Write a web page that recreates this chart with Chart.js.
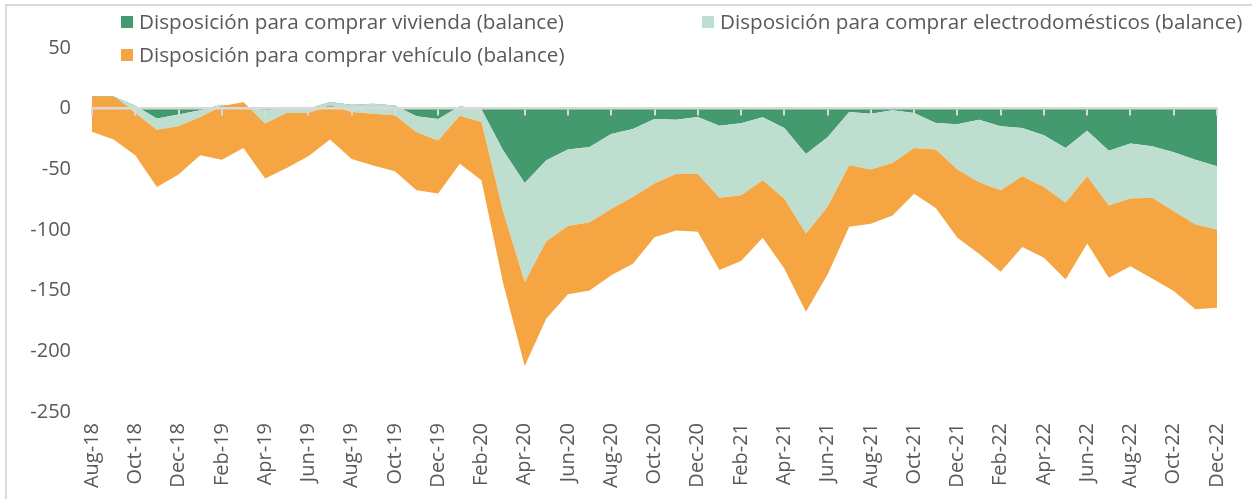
<!DOCTYPE html>
<html>
<head>
<meta charset="utf-8">
<script src="https://cdn.jsdelivr.net/npm/chart.js@4.4.1/dist/chart.umd.min.js"></script>
<style>
html,body{margin:0;padding:0;background:#fff;overflow:hidden;width:1252px;height:499px;}
#frame{position:absolute;left:5px;top:4px;width:1400px;height:700px;border:2px solid #d9d9d9;box-sizing:border-box;}
#wrap{position:absolute;left:0;top:0;width:1252px;height:499px;}
</style>
</head>
<body>
<div id="frame"></div>
<div id="wrap"><canvas id="c" width="1252" height="499"></canvas></div>
<script>
const months = ['Aug-18','Sep-18','Oct-18','Nov-18','Dec-18','Jan-19','Feb-19','Mar-19','Apr-19','May-19','Jun-19','Jul-19',
  'Aug-19','Sep-19','Oct-19','Nov-19','Dec-19','Jan-20','Feb-20','Mar-20','Apr-20','May-20','Jun-20','Jul-20',
  'Aug-20','Sep-20','Oct-20','Nov-20','Dec-20','Jan-21','Feb-21','Mar-21','Apr-21','May-21','Jun-21','Jul-21',
  'Aug-21','Sep-21','Oct-21','Nov-21','Dec-21','Jan-22','Feb-22','Mar-22','Apr-22','May-22','Jun-22','Jul-22',
  'Aug-22','Sep-22','Oct-22','Nov-22','Dec-22'];

const vivienda = [10, 10, 2.5, -8.2, -4.9, -1.4, 3.3, 1, -1, 0, 0, 5.5, 3.3, 4.1, 2.7, -6.3, -8.5, 1.9, -0.5,
  -34.3, -61.2, -42.5, -33.7, -31.5, -20.9, -16.7, -8.5, -9.1, -6.9, -14, -12.1, -7.1, -15.9, -37.3, -23.6,
  -2.7, -4.1, -1.4, -3.6, -11.8, -12.9, -9.1, -14.5, -15.9, -21.9, -32.4, -18.1, -34.6, -28.8, -31, -35.9, -42, -47.5];

const electrodomesticos = [0, 0, -6.1, -9.1, -9.6, -5.5, -1.4, 4.2, -11.3, -3.6, -3.6, -2.8, -6, -8.2, -8.2, -13.2, -17.8, -7.7, -10.5,
  -50.2, -81.8, -66.7, -63.1, -62.1, -61.7, -56, -53.2, -44.7, -46.9, -59.5, -59.2, -51.9, -58.4, -65.6, -57.3,
  -43.9, -46.1, -43.3, -28.8, -21.9, -37.3, -51.5, -52.7, -39.8, -42.6, -45.2, -37.6, -45.2, -45.2, -42.5, -48.6, -53.5, -52.1];

const vehiculo = [-29, -35.5, -34.8, -47.2, -39.8, -31.5, -43.9, -37.6, -45.3, -45.2, -35.6, -28.2, -38.7, -42.8, -46.1, -47.7, -43.7, -39.5, -48,
  -59, -69, -63.8, -56.2, -56.2, -54.6, -55.1, -44.2, -46.6, -47.7, -59.5, -54.3, -47.4, -57.4, -64.5, -55.7,
  -50.8, -44.7, -43.3, -37.8, -48.1, -56.2, -59, -67.2, -58.4, -58.4, -63.1, -55.4, -59.6, -55.8, -66.4, -65.8, -69.9, -64.4];

const yTicks = [50, 0, -50, -100, -150, -200, -250];

const seriesNames = {
  viv: 'Disposición para comprar vivienda (balance)',
  ele: 'Disposición para comprar electrodomésticos (balance)',
  veh: 'Disposición para comprar vehículo (balance)'
};

// Excel-style stacked area: running sums of the series, in series order
const cumViv = vivienda.slice();
const cumEle = electrodomesticos.map((v, i) => cumViv[i] + v);
const cumVeh = vehiculo.map((v, i) => cumEle[i] + v);

const FONT = 'Open Sans';
const TXT = '#595959';
const AXIS = '#d9d9d9';

const excelLegend = {
  id: 'excelLegend',
  afterDraw(chart, args, o) {
    const ctx = chart.ctx;
    ctx.save();
    ctx.font = '19px "' + FONT + '"';
    const w = ctx.measureText(seriesNames.viv).width;
    const size = 19 * o.targetWidth / w;
    ctx.font = size.toFixed(2) + 'px "' + FONT + '"';
    ctx.textBaseline = 'alphabetic';
    ctx.textAlign = 'left';
    o.items.forEach(it => {
      const ds = chart.data.datasets[it.dataset];
      ctx.fillStyle = ds.backgroundColor;
      ctx.fillRect(it.x, it.y - o.box / 2, o.box, o.box);
      ctx.fillStyle = TXT;
      ctx.fillText(ds.label, it.x + o.box + o.gap, it.y + o.baseline);
    });
    ctx.restore();
  }
};

const areaStyle = { borderColor: 'rgba(0,0,0,0)', borderWidth: 0, pointRadius: 0, pointHoverRadius: 0, tension: 0 };

new Chart(document.getElementById('c'), {
  type: 'line',
  data: {
    labels: months,
    datasets: [
      Object.assign({ label: seriesNames.veh, data: cumVeh, backgroundColor: '#f5a642', fill: '+1' }, areaStyle),
      Object.assign({ label: seriesNames.ele, data: cumEle, backgroundColor: '#bedfd0', fill: '+1' }, areaStyle),
      Object.assign({ label: seriesNames.viv, data: cumViv, backgroundColor: '#439a6f', fill: 'origin' }, areaStyle)
    ]
  },
  options: {
    responsive: false,
    animation: false,
    devicePixelRatio: 1,
    layout: { padding: { top: 48, right: 28, bottom: 0, left: 0 } },
    scales: {
      x: {
        type: 'category',
        offset: false,
        grid: { display: false, drawTicks: false },
        border: { display: false },
        ticks: {
          autoSkip: false, maxRotation: 90, minRotation: 90, padding: 11,
          color: TXT, font: { family: FONT, size: 20 },
          callback: (v, i) => (i % 2 === 0 ? months[i] : '')
        },
        afterFit: s => { s.height = 87; }
      },
      xz: {
        type: 'category',
        position: { y: 0 },
        offset: false,
        ticks: { display: false, autoSkip: false },
        grid: {
          display: true, drawOnChartArea: false, drawTicks: true, tickLength: 6, lineWidth: 2, offset: false, z: 1,
          color: c => (c.index % 2 === 0 ? AXIS : 'rgba(0,0,0,0)')
        },
        border: { display: true, color: AXIS, width: 2.5, z: 1 }
      },
      y: {
        min: Math.min(...yTicks),
        max: Math.max(...yTicks),
        grid: { display: false, drawTicks: false },
        border: { display: false },
        ticks: { stepSize: 50, padding: 21, color: TXT, font: { family: FONT, size: 20 } },
        afterFit: s => { s.width = 92; }
      }
    },
    plugins: {
      legend: { display: false },
      tooltip: { enabled: false },
      excelLegend: {
        targetWidth: 425, box: 12, gap: 6, baseline: 7,
        items: [
          { dataset: 2, x: 121, y: 22 },
          { dataset: 1, x: 702, y: 22 },
          { dataset: 0, x: 121, y: 55 }
        ]
      }
    }
  },
  plugins: [excelLegend]
});
</script>
</body>
</html>
